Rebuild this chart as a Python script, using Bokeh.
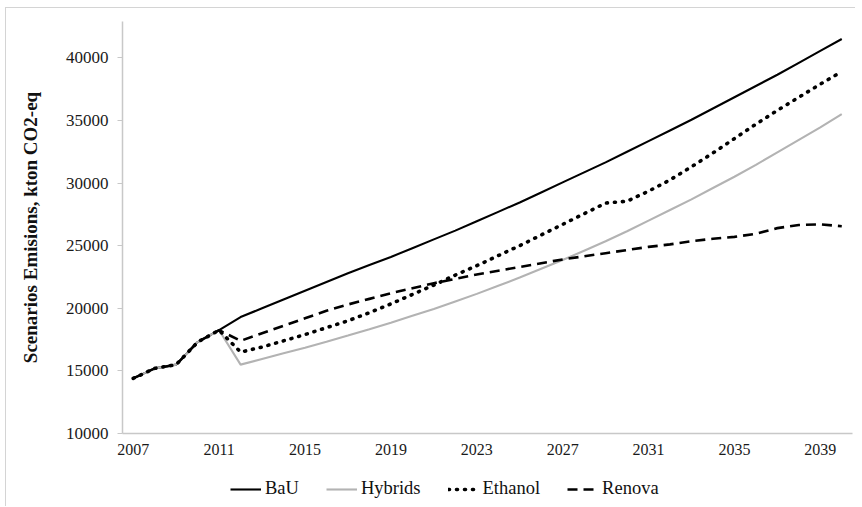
from bokeh.plotting import figure
from bokeh.layouts import column
from bokeh.models import FixedTicker, Legend, LegendItem, Range1d, NumeralTickFormatter
from bokeh.embed import file_html
from bokeh.resources import INLINE

years = [2007, 2008, 2009, 2010, 2011, 2012, 2013, 2014, 2015, 2016, 2017, 2018,
         2019, 2020, 2021, 2022, 2023, 2024, 2025, 2026, 2027, 2028, 2029, 2030,
         2031, 2032, 2033, 2034, 2035, 2036, 2037, 2038, 2039, 2040]

bau = [14400, 15200, 15500, 17300, 18250, 19300, 20000, 20700, 21400, 22100, 22800, 23450,
       24100, 24800, 25500, 26200, 26950, 27700, 28450, 29250, 30050, 30850, 31650, 32500,
       33350, 34200, 35050, 35950, 36850, 37750, 38650, 39600, 40550, 41500]

hybrids = [14400, 15200, 15500, 17300, 18250, 15500, 15950, 16400, 16850, 17330, 17820, 18330,
           18850, 19400, 19950, 20550, 21150, 21800, 22450, 23150, 23850, 24600, 25350, 26150,
           27000, 27850, 28700, 29600, 30500, 31450, 32450, 33450, 34450, 35500]

ethanol = [14400, 15200, 15500, 17300, 18250, 16500, 16900, 17400, 17900, 18450, 19000, 19650,
           20350, 21100, 21850, 22650, 23400, 24200, 25000, 25850, 26700, 27550, 28400, 28550,
           29350, 30250, 31300, 32400, 33550, 34700, 35800, 36850, 37900, 38900]

renova = [14400, 15200, 15500, 17300, 18250, 17400, 18000, 18600, 19200, 19800, 20300, 20750,
          21200, 21600, 22000, 22350, 22700, 23000, 23300, 23600, 23900, 24150, 24400, 24650,
          24900, 25100, 25350, 25550, 25700, 25950, 26400, 26650, 26700, 26550]

series_names = ["BaU", "Hybrids", "Ethanol", "Renova"]
x_ticks = [2007, 2011, 2015, 2019, 2023, 2027, 2031, 2035, 2039]
y_ticks = [10000, 15000, 20000, 25000, 30000, 35000, 40000]

FONT = "Liberation Serif"

styles = [
    dict(line_color="black", line_width=2.1),
    dict(line_color="#b3b3b3", line_width=2.1),
    dict(line_color="black", line_width=3.6, line_dash="1 7", line_cap="round"),
    dict(line_color="black", line_width=2.6, line_dash="10 6"),
]
values = [bau, hybrids, ethanol, renova]

p = figure(width=849, height=462, output_backend="svg", toolbar_location=None,
           x_range=Range1d(2006.5, 2040.5), y_range=Range1d(10000, 42900),
           min_border_left=116, min_border_right=3, min_border_top=13, min_border_bottom=37)
p.outline_line_color = None
p.xgrid.visible = False
p.ygrid.visible = False
p.background_fill_color = "white"
p.border_fill_color = "white"

# axes
xa = p.xaxis[0]
xa.ticker = FixedTicker(ticks=x_ticks)
xa.axis_line_color = "#c8c8c8"
xa.axis_line_width = 1.5
xa.major_tick_out = 0
xa.major_tick_in = 0
xa.minor_tick_out = 0
xa.minor_tick_in = 0
xa.major_label_standoff = 10
xa.major_label_text_font = FONT
xa.major_label_text_font_size = "16px"
xa.major_label_text_color = "#1a1a1a"

ya = p.yaxis[0]
ya.ticker = FixedTicker(ticks=y_ticks)
ya.formatter = NumeralTickFormatter(format="0")
ya.axis_line_color = "#c8c8c8"
ya.axis_line_width = 1.5
ya.major_tick_line_color = "#c8c8c8"
ya.major_tick_out = 5
ya.major_tick_in = 0
ya.minor_tick_out = 0
ya.minor_tick_in = 0
ya.major_label_standoff = 9
ya.major_label_text_font = FONT
ya.major_label_text_font_size = "17px"
ya.major_label_text_color = "#1a1a1a"
ya.axis_label = "Scenarios Emisions, kton CO2-eq"
ya.axis_label_text_font = FONT
ya.axis_label_text_font_style = "bold"
ya.axis_label_text_font_size = "19px"
ya.axis_label_text_color = "#111111"
ya.axis_label_standoff = 22

# series (drawn in order: BaU, Hybrids, Ethanol, Renova)
for vals, st in zip(values, styles):
    p.line(years, vals, **st)

# legend strip below the chart (its own small canvas so the legend is not clipped)
leg = figure(width=849, height=36, output_backend="svg", toolbar_location=None,
             x_range=Range1d(0, 1), y_range=Range1d(0, 1),
             x_axis_type=None, y_axis_type=None,
             min_border_left=0, min_border_right=0, min_border_top=0, min_border_bottom=0)
leg.outline_line_color = None
leg.xgrid.visible = False
leg.ygrid.visible = False
leg.background_fill_color = "white"
leg.border_fill_color = "white"

items = []
for name, vals, st in zip(series_names, values, styles):
    r = leg.line(years, vals, **st)  # same series; outside this strip's range, only feeds the legend keys
    items.append(LegendItem(label=name, renderers=[r]))

legend = Legend(
    items=items, orientation="horizontal", location=(108, 7),
    padding=0, margin=0, spacing=27,
    glyph_width=31, glyph_height=20, label_height=20, label_standoff=4,
    border_line_color=None, background_fill_alpha=0,
    label_text_font=FONT, label_text_font_size="18.5px", label_text_color="#111111",
)
leg.add_layout(legend)

layout = column(p, leg, spacing=0)
layout.styles = {"border-top": "1px solid #d4d4d4", "border-left": "1px solid #d4d4d4",
                 "margin-left": "5px", "margin-top": "7px"}

open("out.html", "w").write(file_html(layout, INLINE))
